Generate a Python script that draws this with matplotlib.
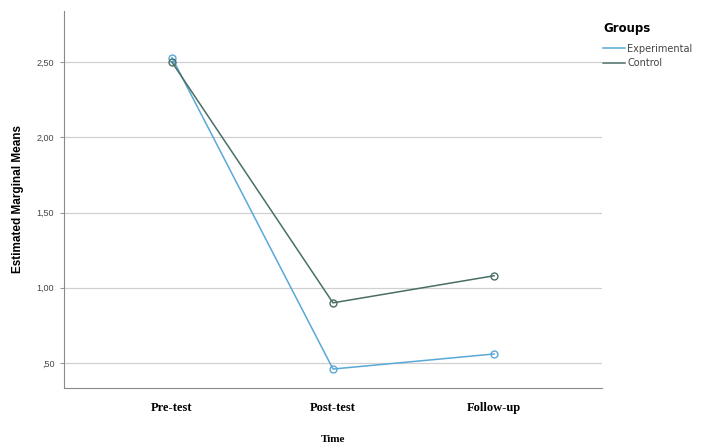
import matplotlib.pyplot as plt
from matplotlib.lines import Line2D

# Data
time_points = ["Pre-test", "Post-test", "Follow-up"]
experimental = [2.53, 0.46, 0.56]
control = [2.50, 0.90, 1.08]
y_ticks = [0.5, 1.0, 1.5, 2.0, 2.5]
y_tick_labels = [",50", "1,00", "1,50", "2,00", "2,50"]

exp_color = "#5aa8d8"
ctl_color = "#4a6e66"

fig = plt.figure(figsize=(7.02, 4.43), dpi=100)
ax = fig.add_axes([0.0912, 0.1242, 0.7663, 0.851])

x = range(len(time_points))
ax.plot(x, experimental, color=exp_color, lw=1.1, marker="o", ms=5,
        mfc="none", mec=exp_color, mew=1.0, zorder=3)
ax.plot(x, control, color=ctl_color, lw=1.1, marker="o", ms=5,
        mfc="none", mec=ctl_color, mew=1.0, zorder=3)

ax.set_xlim(-0.67, 2.67)
ax.set_ylim(0.334, 2.84)
ax.set_yticks(y_ticks)
ax.set_yticklabels(y_tick_labels, fontsize=6.5, color="#444444", family="Liberation Sans")
ax.set_xticks(list(x))
ax.set_xticklabels(time_points, fontsize=9, fontweight="bold", family="Liberation Serif")
ax.tick_params(axis="x", length=0, pad=10)
ax.tick_params(axis="y", length=3, color="#999999", pad=4)

# Grid and spines
ax.grid(axis="y", color="#d0d0d0", lw=0.9)
ax.set_axisbelow(True)
for side in ["top", "right"]:
    ax.spines[side].set_visible(False)
ax.spines["left"].set_color("#8a8a8a")
ax.spines["bottom"].set_color("#8a8a8a")

ax.set_xlabel("Time", fontsize=8, fontweight="bold", family="Liberation Serif", labelpad=15)
ax.set_ylabel("Estimated Marginal Means", fontsize=8.5, fontweight="bold",
              family="Liberation Sans", labelpad=9)

# Legend
handles = [Line2D([], [], color=exp_color, lw=1.1),
           Line2D([], [], color=ctl_color, lw=1.1)]
leg = ax.legend(handles, ["Experimental", "Control"], title="Groups",
                loc="upper left", bbox_to_anchor=(0.995, 0.98), frameon=False,
                fontsize=7, handlelength=2.2, handletextpad=0.3,
                labelspacing=0.45, borderaxespad=0)
leg.get_title().set_fontweight("bold")
leg.get_title().set_fontsize(8.5)
leg._legend_box.align = "left"
leg._legend_box.sep = 6
for t in leg.get_texts():
    t.set_color("#444444")

fig.savefig("out.png", dpi=100)
